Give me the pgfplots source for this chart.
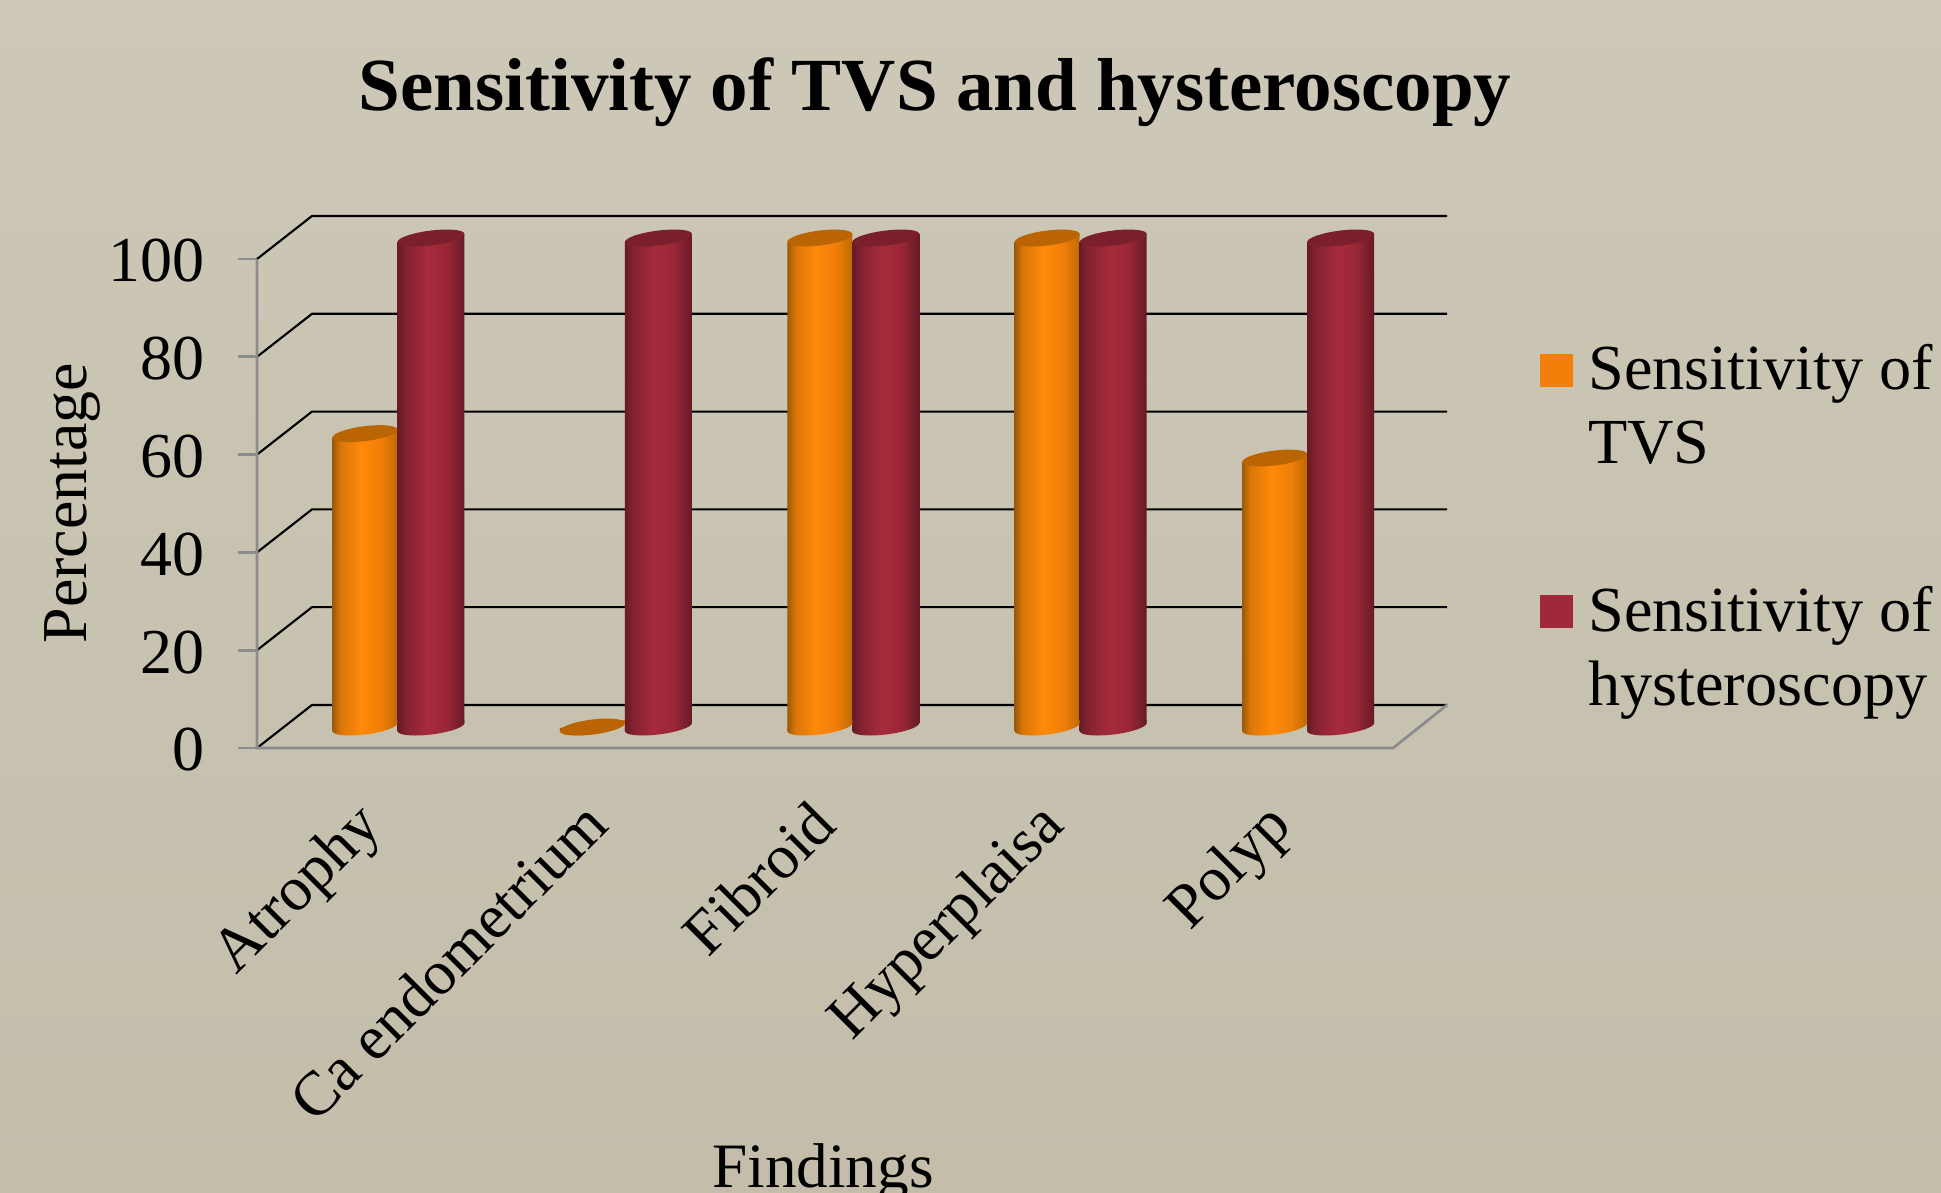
\documentclass[border=0pt]{standalone}
\usepackage{fontspec}
\setmainfont{Liberation Serif}
\usepackage{pgfplots}
\usepackage{pgfplotstable}
\pgfplotsset{compat=1.18}
\definecolor{bgtop}{HTML}{CDC8B7}
\definecolor{bgbot}{HTML}{C3BDAA}
\definecolor{ogTop}{HTML}{BA6404}
\definecolor{rdTop}{HTML}{7A1F2B}
\definecolor{ogLeg}{HTML}{F37F08}
\definecolor{rdLeg}{HTML}{A0283A}
\definecolor{axgray}{HTML}{8C8C8C}
\definecolor{HTMLog1}{HTML}{9A5A08}
\definecolor{HTMLog2}{HTML}{D97608}
\definecolor{HTMLog3}{HTML}{FF8A0A}
\definecolor{HTMLog4}{HTML}{F07F08}
\definecolor{HTMLog5}{HTML}{BF6A04}
\definecolor{HTMLrd1}{HTML}{671B27}
\definecolor{HTMLrd2}{HTML}{822230}
\definecolor{HTMLrd3}{HTML}{A62B3B}
\definecolor{HTMLrd4}{HTML}{992736}
\definecolor{HTMLrd5}{HTML}{641A26}
\pgfdeclarehorizontalshading{cylorange}{100bp}{
  color(0bp)=(HTMLog1); color(25bp)=(HTMLog1); color(31bp)=(HTMLog2); color(47bp)=(HTMLog3);
  color(62bp)=(HTMLog4); color(75bp)=(HTMLog5); color(100bp)=(HTMLog5)}
\pgfdeclarehorizontalshading{cylred}{100bp}{
  color(0bp)=(HTMLrd1); color(25bp)=(HTMLrd1); color(31bp)=(HTMLrd2); color(47bp)=(HTMLrd3);
  color(62bp)=(HTMLrd4); color(75bp)=(HTMLrd5); color(100bp)=(HTMLrd5)}
\pgfdeclareplotmark{cyltop}{%
  \pgfpathellipse{\pgfpointorigin}{\pgfqpoint{13.4pt}{1.6pt}}{\pgfqpoint{0pt}{3pt}}%
  \pgfusepathqfill}
\pgfdeclareplotmark{cyltopO}{%
  \pgfpathellipse{\pgfpointorigin}{\pgfqpoint{13pt}{1.55pt}}{\pgfqpoint{0pt}{3pt}}%
  \pgfusepathqfill}
\def\lowerhalf#1{%
  \pgfpathmoveto{\pgfqpoint{-#1pt}{-1.6pt}}%
  \pgfpathcurveto{\pgfqpoint{-#1pt}{-3.257pt}}{\pgfqpoint{-7.4pt}{-3.884pt}}{\pgfqpoint{0pt}{-3pt}}%
  \pgfpathcurveto{\pgfqpoint{7.4pt}{-2.116pt}}{\pgfqpoint{#1pt}{-0.057pt}}{\pgfqpoint{#1pt}{1.6pt}}%
  \pgfpathlineto{\pgfqpoint{#1pt}{2.8pt}}%
  \pgfpathlineto{\pgfqpoint{-#1pt}{-0.4pt}}%
  \pgfpathclose}
\pgfdeclareplotmark{cylbotO}{\lowerhalf{13}\pgfshadepath{cylorange}{0}\pgfusepath{discard}}
\pgfdeclareplotmark{cylbotR}{\lowerhalf{13.4}\pgfshadepath{cylred}{0}\pgfusepath{discard}}
\pgfplotstableread{
x tvs hys base
0 60 100 0
1 0 100 0
2 100 100 0
3 100 100 0
4 55 100 0
}\sens
\pgfplotsset{
  cylO/.style={forget plot,ybar,bar width=26pt,bar shift=-13pt,draw=none,shading=cylorange,yslant=0.1194},
  cylR/.style={forget plot,ybar,bar width=26.8pt,bar shift=13.4pt,draw=none,shading=cylred,yslant=0.1194},
}
\begin{document}
\begin{tikzpicture}
\shade[top color=bgtop,bottom color=bgbot] (0,0) rectangle (776.4pt,476.8pt);
\path[use as bounding box] (0,0) rectangle (776.4pt,476.8pt);
\begin{axis}[
  at={(102.8pt,177.6pt)},anchor=south west,
  scale only axis,width=476pt,height=212.8pt,
  xmin=-0.6178,xmax=4.615,ymin=0,ymax=108.8,
  clip=false,
  axis lines*=left,
  axis line style={draw=none},
  xtick={0,1,2,3,4},
  xticklabels={Atrophy,Ca endometrium,Fibroid,Hyperplaisa,Polyp},
  ytick={0,20,40,60,80,100},
  /pgf/number format/assume math mode=true,
  yticklabel style={font=\fontsize{25.6}{30}\selectfont,xshift=-9.7pt,yshift=-0.8pt},
  xticklabel style={font=\fontsize{25}{30}\selectfont,rotate=45,anchor=north east,yshift=7.4pt,xshift=-17.7pt},
  xtick style={draw=none},
  ytick style={draw=axgray,line width=1.1pt},
  tick align=outside,
  major tick length=7.6pt,
  every axis title shift=0pt,
  title={\fontsize{30}{34}\selectfont\bfseries Sensitivity of TVS and hysteroscopy},
  title style={at={(rel axis cs:0.5697,1.1992)},anchor=base},
  xlabel={\fontsize{25.3}{30}\selectfont Findings},
  xlabel style={at={(rel axis cs:0.4756,-0.827)},anchor=base},
  ylabel={\fontsize{25.6}{30}\selectfont Percentage},
  ylabel style={at={(rel axis cs:-0.143,0.4605)},anchor=base},
  legend style={at={(rel axis cs:1.078,0.7687)},anchor=north west,draw=none,fill=none,
    inner sep=0pt,row sep=43.3pt,font=\fontsize{25.7}{29.6}\selectfont,
    cells={anchor=west,align=left},
    /tikz/every odd column/.append style={column sep=4pt}},
]
% back wall, side wall and floor
\addplot[forget plot,black,line width=0.85pt] coordinates {(-0.6178,0)(-0.376,8.8)(4.615,8.8)};
\addplot[forget plot,black,line width=0.85pt] coordinates {(-0.6178,20)(-0.376,28.8)(4.615,28.8)};
\addplot[forget plot,black,line width=0.85pt] coordinates {(-0.6178,40)(-0.376,48.8)(4.615,48.8)};
\addplot[forget plot,black,line width=0.85pt] coordinates {(-0.6178,60)(-0.376,68.8)(4.615,68.8)};
\addplot[forget plot,black,line width=0.85pt] coordinates {(-0.6178,80)(-0.376,88.8)(4.615,88.8)};
\addplot[forget plot,black,line width=0.85pt] coordinates {(-0.6178,100)(-0.376,108.8)(4.615,108.8)};
\addplot[forget plot,axgray,line width=1.1pt] coordinates {(-0.6178,100)(-0.6178,0)(4.378,0)(4.615,8.8)};
% orange
\addplot[forget plot,only marks,mark=cylbotO,xshift=-13pt,yshift=8.4pt] table[x=x,y=base] {\sens};
\addplot[cylO,yshift=3.24pt] coordinates {(0,60)};
\addplot[cylO,yshift=-18.48pt] coordinates {(2,100)};
\addplot[cylO,yshift=-29.34pt] coordinates {(3,100)};
\addplot[cylO,yshift=-40.2pt] coordinates {(4,55)};
\addplot[forget plot,only marks,mark=cyltopO,mark options={fill=ogTop,draw=none},xshift=-13pt,yshift=8.4pt] table[x=x,y=tvs] {\sens};
% red
\addplot[forget plot,only marks,mark=cylbotR,xshift=13.4pt,yshift=8.4pt] table[x=x,y=base] {\sens};
\addplot[cylR,yshift=0.09pt] coordinates {(0,100)};
\addplot[cylR,yshift=-10.77pt] coordinates {(1,100)};
\addplot[cylR,yshift=-21.63pt] coordinates {(2,100)};
\addplot[cylR,yshift=-32.49pt] coordinates {(3,100)};
\addplot[cylR,yshift=-43.35pt] coordinates {(4,100)};
\addplot[forget plot,only marks,mark=cyltop,mark options={fill=rdTop,draw=none},xshift=13.4pt,yshift=8.4pt] table[x=x,y=hys] {\sens};
\addlegendimage{legend image code/.code={\fill[ogLeg] (0pt,8pt) rectangle (12.8pt,20.8pt);}}
\addlegendentry{Sensitivity of\\TVS}
\addlegendimage{legend image code/.code={\fill[rdLeg] (0pt,8pt) rectangle (12.8pt,20.8pt);}}
\addlegendentry{Sensitivity of\\hysteroscopy}
\end{axis}
\end{tikzpicture}
\end{document}
